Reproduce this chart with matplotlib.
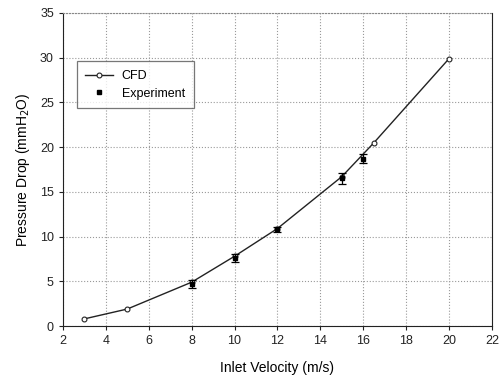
import matplotlib
matplotlib.use("Agg")
import matplotlib.pyplot as plt

cfd_v = [3, 5, 8, 10, 12, 15, 16.5, 20]
cfd_p = [0.8, 1.9, 4.9, 7.8, 10.9, 16.7, 20.5, 29.9]
exp_v = [8, 10, 12, 15, 16]
exp_p = [4.7, 7.6, 10.8, 16.5, 18.7]
exp_err = [0.5, 0.4, 0.3, 0.6, 0.5]

plt.rcParams['font.family'] = ['Liberation Sans', 'DejaVu Sans']
fig = plt.figure(figsize=(4.99, 3.80), dpi=100)
ax = fig.add_axes([0.126, 0.142, 0.86, 0.824])

ax.plot(cfd_v, cfd_p, color='#222222', lw=1.0, marker='o', ms=3.5,
        mfc='white', mec='#222222', mew=0.8, label='CFD', zorder=3)
ax.errorbar(exp_v, exp_p, yerr=exp_err, fmt='none', ecolor='black',
            elinewidth=0.9, capsize=3, capthick=0.9, zorder=4)
ax.plot(exp_v, exp_p, ls='none', marker='s', ms=3, color='black',
        label='Experiment', zorder=5)

ax.set_xlim(2, 22)
ax.set_ylim(0, 35)
ax.set_xticks(range(2, 23, 2))
ax.set_yticks(range(0, 36, 5))
ax.grid(True, color='#999999', ls=':', lw=0.8)
ax.tick_params(labelsize=9, length=3, direction='out', colors='#222222')
for s in ['left', 'bottom', 'right']:
    ax.spines[s].set_color('#222222')
ax.spines['top'].set_color('#888888')
ax.spines['top'].set_linestyle(':')

ax.set_xlabel('Inlet Velocity (m/s)', fontsize=10, labelpad=10)
ax.set_ylabel('Pressure Drop (mmH$_2$O)', fontsize=10, labelpad=6)

leg = ax.legend(loc='upper left', bbox_to_anchor=(0.032, 0.846), fontsize=9,
                frameon=True, fancybox=False, edgecolor='#555555',
                handlelength=2.2, borderpad=0.7, labelspacing=0.45,
                handletextpad=0.7, borderaxespad=0)
leg.get_frame().set_linewidth(0.9)

fig.savefig('out.png', dpi=100)
